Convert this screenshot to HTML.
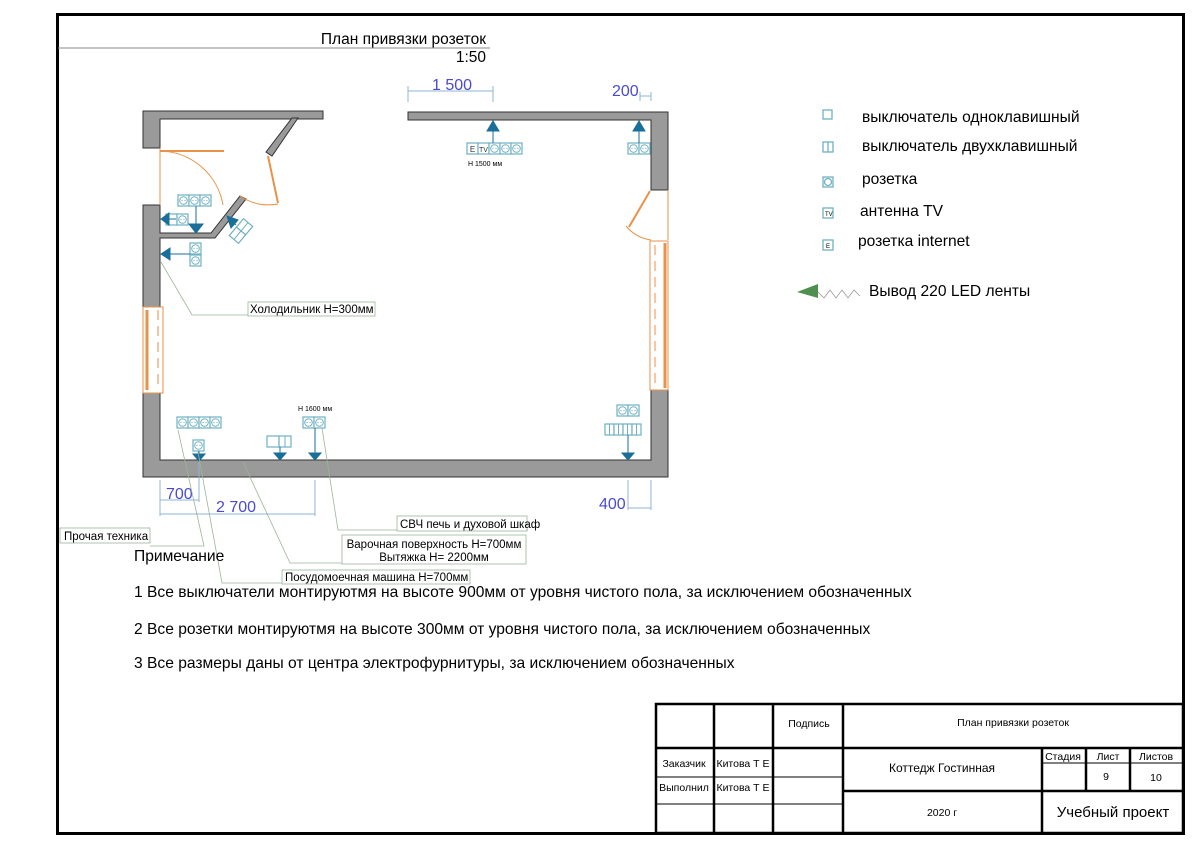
<!DOCTYPE html>
<html><head><meta charset="utf-8"><style>
html,body{margin:0;padding:0;background:#fff;}
svg{display:block;font-family:"Liberation Sans",sans-serif;}
</style></head><body>
<svg width="1199" height="848" viewBox="0 0 1199 848" xmlns="http://www.w3.org/2000/svg">
<defs>
<g id="s"><rect x="0" y="0" width="11" height="11" fill="#fff" stroke="#6fb0c2" stroke-width="1.2"/><circle cx="5.5" cy="5.5" r="3.8" fill="none" stroke="#6fb0c2" stroke-width="1"/><circle cx="4" cy="5.5" r="0.6" fill="#6fb0c2"/><circle cx="7" cy="5.5" r="0.6" fill="#6fb0c2"/></g>
</defs>
<rect x="57.5" y="14.5" width="1126" height="819" fill="none" stroke="#000" stroke-width="3"/>
<line x1="58" y1="48" x2="490" y2="48" stroke="#888" stroke-width="1"/>
<text x="486" y="44" font-size="15.5" text-anchor="end">План привязки розеток</text>
<text x="486" y="62" font-size="15.5" text-anchor="end">1:50</text>

<g fill="#9a9a9a" stroke="#333" stroke-width="1">
<path d="M143 111 H323 V119 H160 V148 H143 Z"/>
<path d="M143 205 H160 V233 H211 L240 196 L246 199 L215 238 H160 V307 H143 Z"/>
<path d="M292 118 H298 L272 156 L266 152 Z"/>
<path d="M408 112 H668 V190 H651 V120 H408 Z"/>
<path d="M143 393 H160 V460 H651 V390 H668 V477 H143 Z"/>
</g>
<g fill="none" stroke="#e8924a" stroke-width="1">
<line x1="160" y1="151" x2="224" y2="151" stroke-width="2"/>
<path d="M160 151 A 65 65 0 0 1 223 205" />
<line x1="160" y1="148" x2="160" y2="205"/>
<line x1="268" y1="156" x2="278" y2="203" stroke-width="2"/>
<path d="M240 196 A 50 50 0 0 0 278 204"/>
<line x1="650" y1="191" x2="629" y2="227" stroke-width="2"/>
<path d="M626 226 A 40 40 0 0 0 651 240"/>
<line x1="668" y1="190" x2="668" y2="240"/>
<rect x="650" y="241" width="18" height="149"/>
<line x1="665" y1="243" x2="665" y2="388" stroke-width="3"/>
<line x1="655" y1="245" x2="655" y2="388" stroke-dasharray="10 6"/>
<rect x="143" y="307" width="20" height="86"/>
<line x1="147" y1="310" x2="147" y2="390" stroke-width="3"/>
<line x1="158" y1="310" x2="158" y2="390" stroke-dasharray="10 6"/>
</g>

<g>
<use href="#s" x="178" y="195"/><use href="#s" x="189" y="195"/><use href="#s" x="200" y="195"/>
<rect x="166" y="214" width="11" height="11" fill="#fff" stroke="#6fb0c2" stroke-width="1.2"/><use href="#s" x="177" y="214"/>
<use href="#s" x="190" y="243"/><use href="#s" x="190" y="255"/>
<g transform="translate(241,231) rotate(40)"><rect x="-6" y="-11" width="12" height="11" fill="#fff" stroke="#6fb0c2" stroke-width="1.2"/><rect x="-6" y="0" width="12" height="11" fill="#fff" stroke="#6fb0c2" stroke-width="1.2"/><line x1="0" y1="-11" x2="0" y2="11" stroke="#6fb0c2"/></g>
<rect x="467" y="143" width="11" height="11" fill="#fff" stroke="#6fb0c2" stroke-width="1.2"/><text x="472.5" y="152" font-size="8" text-anchor="middle" fill="#333">E</text>
<rect x="478" y="143" width="11" height="11" fill="#fff" stroke="#6fb0c2" stroke-width="1.2"/><text x="483.5" y="152" font-size="7" text-anchor="middle" fill="#333">TV</text>
<use href="#s" x="489" y="143"/><use href="#s" x="500" y="143"/><use href="#s" x="511" y="143"/>
<text x="468" y="166" font-size="7">Н 1500 мм</text>
<use href="#s" x="628" y="143"/><use href="#s" x="639" y="143"/>
<use href="#s" x="177" y="417"/><use href="#s" x="188" y="417"/><use href="#s" x="199" y="417"/><use href="#s" x="210" y="417"/>
<use href="#s" x="193" y="440"/>
<rect x="267" y="436" width="12" height="11" fill="#fff" stroke="#6fb0c2" stroke-width="1.2"/><rect x="279" y="436" width="12" height="11" fill="#fff" stroke="#6fb0c2" stroke-width="1.2"/><line x1="285" y1="436" x2="285" y2="447" stroke="#6fb0c2"/>
<use href="#s" x="303" y="417"/><use href="#s" x="314" y="417"/>
<text x="298" y="411" font-size="7">Н 1600 мм</text>
<use href="#s" x="617" y="405"/><use href="#s" x="628" y="405"/>
<g fill="#fff" stroke="#6fb0c2" stroke-width="1.2"><rect x="605" y="424" width="9" height="11"/><rect x="614" y="424" width="9" height="11"/><rect x="623" y="424" width="9" height="11"/><rect x="632" y="424" width="9" height="11"/></g>
<g stroke="#6fb0c2" stroke-width="1"><line x1="609.5" y1="424" x2="609.5" y2="435"/><line x1="618.5" y1="424" x2="618.5" y2="435"/><line x1="627.5" y1="424" x2="627.5" y2="435"/><line x1="636.5" y1="424" x2="636.5" y2="435"/></g>
</g>
<g stroke="#1a6e9a" stroke-width="1" fill="#1a6e9a">
<line x1="196" y1="206" x2="196" y2="225"/><path d="M189 224 H203 L196 233 Z"/>
<line x1="166" y1="219" x2="176" y2="219"/><path d="M161 219 L169 213 V225 Z"/>
<line x1="165" y1="254" x2="190" y2="254"/><path d="M161 254 L170 248 V260 Z"/>
<line x1="236" y1="225" x2="231" y2="221"/><path d="M227 216 L238 220 L231 228 Z"/>
<line x1="493" y1="130" x2="493" y2="143"/><path d="M487 131 H499 L493 121 Z"/>
<line x1="639" y1="130" x2="639" y2="143"/><path d="M633 131 H645 L639 121 Z"/>
<line x1="199" y1="451" x2="199" y2="455"/><path d="M193 454 H205 L199 461 Z"/>
<line x1="280" y1="447" x2="280" y2="453"/><path d="M274 453 H286 L280 460 Z"/>
<line x1="315" y1="428" x2="315" y2="453"/><path d="M309 453 H321 L315 460 Z"/>
<line x1="628" y1="435" x2="628" y2="453"/><path d="M622 453 H634 L628 460 Z"/>
</g>
<g stroke="#8db4d8" stroke-width="1" fill="none">
<line x1="408" y1="91" x2="493" y2="91"/><line x1="408" y1="86" x2="408" y2="102"/><line x1="493" y1="86" x2="493" y2="102"/>
<line x1="640" y1="96" x2="651" y2="96"/><line x1="640" y1="92" x2="640" y2="101"/><line x1="651" y1="92" x2="651" y2="101"/>
<line x1="160" y1="480" x2="160" y2="516"/><line x1="199" y1="462" x2="199" y2="502"/><line x1="160" y1="500" x2="199" y2="500"/>
<line x1="160" y1="514" x2="315" y2="514"/><line x1="315" y1="480" x2="315" y2="516"/>
<line x1="628" y1="480" x2="628" y2="510"/><line x1="651" y1="480" x2="651" y2="510"/><line x1="628" y1="508" x2="651" y2="508"/>
</g>
<g fill="#4a4ad0" font-size="16">
<text x="432" y="90">1 500</text>
<text x="612" y="96">200</text>
<text x="166" y="499">700</text>
<text x="216" y="512">2 700</text>
<text x="599" y="509">400</text>
</g>
<g stroke="#9bb59b" stroke-width="0.8" fill="none">
<polyline points="161,262 192,315 375,315"/>
<polyline points="178,430 204,546 150,546"/>
<polyline points="198,452 222,583 470,583"/>
<polyline points="243,462 290,563 525,563"/>
<polyline points="322,428 338,530 528,530"/>
</g>
<g font-size="11.5" fill="#000">
<rect x="248" y="302" width="127" height="14" fill="#fff" stroke="#9bb59b" stroke-width="0.8"/><text x="250" y="313">Холодильник Н=300мм</text>
<rect x="60" y="528" width="90" height="15" fill="#fff" stroke="#9bb59b" stroke-width="0.8"/><text x="64" y="540">Прочая техника</text>
<rect x="397" y="516" width="130" height="15" fill="#fff" stroke="#9bb59b" stroke-width="0.8"/><text x="400" y="528">СВЧ печь и духовой шкаф</text>
<rect x="342" y="535" width="184" height="29" fill="#fff" stroke="#9bb59b" stroke-width="0.8"/><text x="434" y="548" text-anchor="middle">Варочная поверхность Н=700мм</text><text x="434" y="561" text-anchor="middle">Вытяжка Н= 2200мм</text>
<rect x="282" y="570" width="188" height="14" fill="#fff" stroke="#9bb59b" stroke-width="0.8"/><text x="285" y="581">Посудомоечная машина Н=700мм</text>
</g>
<g font-size="15.6">
<text x="134" y="561">Примечание</text>
<text x="134" y="597">1 Все выключатели монтируютмя на высоте 900мм от уровня чистого пола, за исключением обозначенных</text>
<text x="134" y="634">2 Все розетки монтируютмя на высоте 300мм от уровня чистого пола, за исключением обозначенных</text>
<text x="134" y="668">3 Все размеры даны от центра электрофурнитуры, за исключением обозначенных</text>
</g>
<g stroke="#6fb0c2" stroke-width="1.3" fill="#fff">
<rect x="823" y="110" width="9" height="9"/>
<rect x="823" y="142" width="10" height="10"/><line x1="828" y1="142" x2="828" y2="152"/>
<rect x="823" y="177" width="10" height="10"/><circle cx="828" cy="182" r="3.5"/>
<rect x="823" y="208" width="10" height="10"/>
<rect x="823" y="240" width="10" height="10"/>
</g>
<text x="825" y="216" font-size="6">TV</text><text x="826" y="248" font-size="6">E</text>
<g font-size="15.6">
<text x="862" y="122">выключатель одноклавишный</text>
<text x="862" y="151">выключатель двухклавишный</text>
<text x="862" y="184">розетка</text>
<text x="860" y="216">антенна TV</text>
<text x="858" y="246">розетка internet</text>
<text x="869" y="296">Вывод 220 LED ленты</text>
</g>
<path d="M797 292 L818 284 V298 Z" fill="#4f8f4f"/>
<polyline points="818,292 824,298 830,290 836,298 842,290 848,298 854,290 860,296" fill="none" stroke="#999" stroke-width="0.8"/>
<g stroke="#000" stroke-width="2.5" fill="none">
<rect x="656" y="704" width="527" height="129"/>
<line x1="714" y1="704" x2="714" y2="833"/>
<line x1="773" y1="704" x2="773" y2="833"/>
<line x1="843" y1="704" x2="843" y2="833"/>
<line x1="656" y1="748" x2="1183" y2="748"/>
<line x1="843" y1="791" x2="1183" y2="791"/>
<line x1="1042" y1="748" x2="1042" y2="833"/>
<line x1="1086" y1="748" x2="1086" y2="791"/>
<line x1="1130" y1="748" x2="1130" y2="791"/>
</g>
<g stroke="#000" stroke-width="1"><line x1="656" y1="777" x2="843" y2="777"/><line x1="656" y1="804" x2="843" y2="804"/><line x1="1042" y1="763" x2="1183" y2="763"/></g>
<g font-size="10.5" text-anchor="middle">
<text x="809" y="727">Подпись</text>
<text x="1013" y="726">План привязки розеток</text>
<text x="684" y="767">Заказчик</text>
<text x="743" y="767">Китова Т Е</text>
<text x="684" y="791">Выполнил</text>
<text x="743" y="791">Китова Т Е</text>
<text x="942" y="772" font-size="12">Коттедж Гостинная</text>
<text x="1063" y="760">Стадия</text>
<text x="1108" y="760">Лист</text>
<text x="1156" y="760">Листов</text>
<text x="1106" y="780">9</text>
<text x="1156" y="781">10</text>
<text x="942" y="816">2020 г</text>
<text x="1113" y="817" font-size="15">Учебный проект</text>
</g>
</svg>
</body></html>
